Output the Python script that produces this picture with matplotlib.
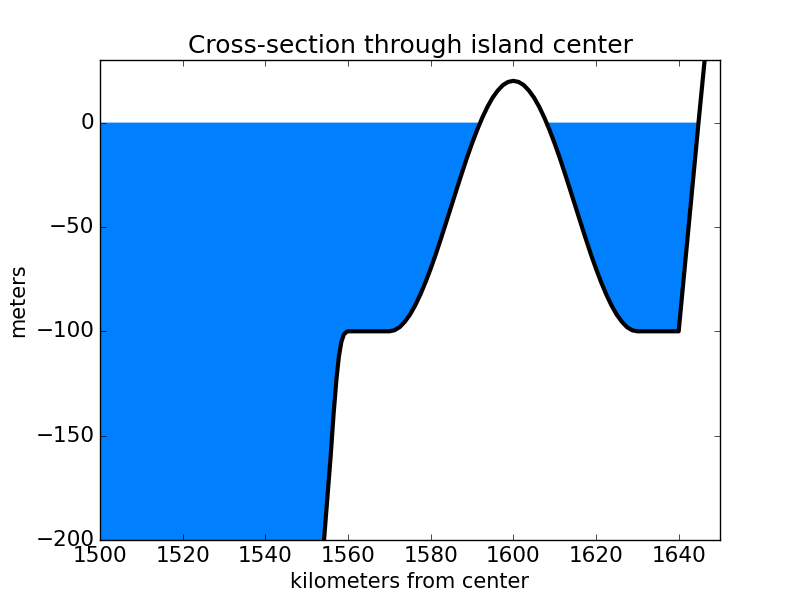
import numpy as np
import matplotlib
matplotlib.use("Agg")
from matplotlib import pyplot as plt

# distance along the section (km) and surface height (m)
x_km = [1500, 1550, 1554.2, 1555, 1555.8, 1556.5, 1557.2, 1557.8, 1558.4, 1559, 1559.6, 1560,
        1570, 1571.25, 1572.5, 1573.75, 1575, 1576.25, 1577.5, 1578.75, 1580,
        1581.25, 1582.5, 1583.75, 1585, 1586.25, 1587.5, 1588.75, 1590,
        1591.25, 1592.5, 1593.75, 1595, 1596.25, 1597.5, 1598.75, 1600,
        1601.25, 1602.5, 1603.75, 1605, 1606.25, 1607.5, 1608.75, 1610,
        1611.25, 1612.5, 1613.75, 1615, 1616.25, 1617.5, 1618.75, 1620,
        1621.25, 1622.5, 1623.75, 1625, 1626.25, 1627.5, 1628.75, 1630,
        1640, 1644.8, 1650]
height_m = [-1000, -330, -200, -180, -160, -140, -123, -112, -105, -101.5, -100.3, -100,
            -100, -99.5, -98, -95.4, -92, -87.6, -82.4, -76.5, -70,
            -63, -55.5, -47.8, -40, -32.2, -24.5, -17, -10,
            -3.5, 2.4, 7.6, 12, 15.4, 18, 19.5, 20,
            19.5, 18, 15.4, 12, 7.6, 2.4, -3.5, -10,
            -17, -24.5, -32.2, -40, -47.8, -55.5, -63, -70,
            -76.5, -82.4, -87.6, -92, -95.4, -98, -99.5, -100,
            -100, 0, 105]

x = np.array(x_km)
h = np.array(height_m)

plt.style.use('classic')
plt.rcParams['font.size'] = 15
plt.rcParams['xtick.labelsize'] = 15.5
plt.rcParams['ytick.labelsize'] = 15.5

fig = plt.figure(figsize=(8, 6), dpi=100)
ax = fig.add_subplot(111)

ax.fill_between(x, h, 0, where=h < 0, interpolate=True, color=[0, 0.5, 1], linewidth=0)
ax.plot(x, h, 'k', linewidth=3)

ax.set_xlim(1500, 1650)
ax.set_ylim(-200, 30)
ax.set_title('Cross-section through island center')
ax.set_xlabel('kilometers from center')
ax.set_ylabel('meters')

fig.savefig('out.png', dpi=100)
